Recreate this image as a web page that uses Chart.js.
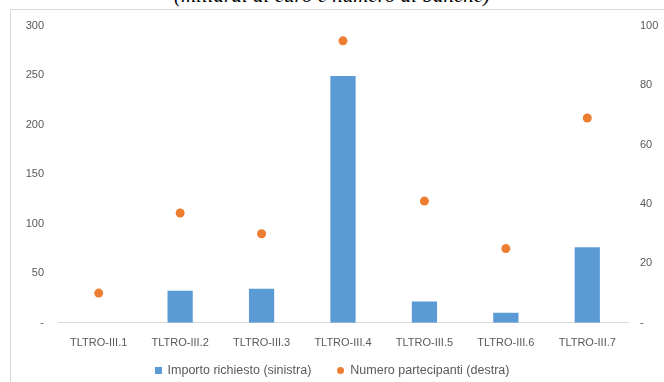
<!DOCTYPE html>
<html>
<head>
<meta charset="utf-8">
<script src="https://cdn.jsdelivr.net/npm/chart.js@4.4.0/dist/chart.umd.min.js"></script>
<style>
  html, body { margin: 0; padding: 0; background: #fff; overflow: hidden; }
  #wrap { position: relative; width: 664px; height: 382px; }
  #titolo {
    position: absolute; left: 0; width: 664px; top: -17px; text-align: center;
    font-family: "Liberation Serif", serif; font-style: italic; font-size: 21px; color: #000;
  }
  #box { position: absolute; left: 10px; top: 9px; width: 700px; height: 400px; border: 1px solid #d9d9d9; }
  canvas { position: absolute; left: 0; top: 0; }
  #legenda {
    position: absolute; left: 0; width: 664px; top: 363px; display: flex; justify-content: center;
    font-family: "Liberation Sans", Arial, sans-serif; font-size: 12.5px; color: #595959; line-height: 14px;
  }
  #legenda span.voce { display: flex; align-items: center; margin: 0 13px; }
  #legenda i { display: inline-block; width: 7px; height: 7px; margin-right: 6px; }
</style>
</head>
<body>
<div id="wrap">
  <div id="titolo">(miliardi di euro e numero di banche)</div>
  <div id="box"></div>
  <canvas id="grafico" width="664" height="382"></canvas>
  <div id="legenda"></div>
</div>
<script>
// dati
const operazioni = ['TLTRO-III.1', 'TLTRO-III.2', 'TLTRO-III.3', 'TLTRO-III.4', 'TLTRO-III.5', 'TLTRO-III.6', 'TLTRO-III.7'];
const importoRichiesto = [0, 32.5, 34.5, 249.5, 21.6, 10.1, 76.3];   // miliardi di euro (sinistra)
const numeroPartecipanti = [10, 37, 30, 95, 41, 25, 69];          // numero di banche (destra)

const grigio = '#595959';
const fontAssi = { family: 'Liberation Sans, Arial, sans-serif', size: 11 };

const ctx = document.getElementById('grafico').getContext('2d');
const chart = new Chart(ctx, {
    type: 'bar',
    data: {
        labels: operazioni,
        datasets: [
            {
                label: 'Importo richiesto (sinistra)',
                data: importoRichiesto,
                backgroundColor: '#5b9bd5',
                yAxisID: 'ySx',
                barPercentage: 0.31,
                categoryPercentage: 1,
                order: 1
            },
            {
                type: 'line',
                label: 'Numero partecipanti (destra)',
                data: numeroPartecipanti,
                yAxisID: 'yDx',
                showLine: false,
                pointRadius: 4.5,
                pointBackgroundColor: '#ed7d31',
                pointBorderWidth: 0,
                backgroundColor: '#ed7d31',
                borderColor: '#ed7d31',
                order: 0
            }
        ]
    },
    options: {
        responsive: false,
        animation: false,
        layout: { padding: { left: 10, right: 6, top: 26, bottom: 18 } },
        plugins: {
            tooltip: { enabled: false },
            legend: { display: false }
        },
        scales: {
            x: {
                grid: { display: false, drawTicks: false },
                border: { color: '#d9d9d9', width: 1 },
                ticks: { color: grigio, font: fontAssi, padding: 14, maxRotation: 0 }
            },
            ySx: {
                position: 'left',
                min: 0, max: 300,
                grid: { display: false, drawTicks: false },
                border: { display: false },
                afterFit: s => { s.width = 48; },
                ticks: {
                    stepSize: 50, color: grigio, font: fontAssi, padding: 14,
                    callback: v => v === 0 ? '-' : v
                }
            },
            yDx: {
                position: 'right',
                min: 0, max: 100,
                grid: { display: false, drawTicks: false },
                border: { display: false },
                afterFit: s => { s.width = 30; },
                ticks: {
                    stepSize: 20, color: grigio, font: fontAssi, padding: 12,
                    callback: v => v === 0 ? '-' : v
                }
            }
        }
    }
});

// legenda in HTML (quadrato per le barre, cerchio per i punti)
const legenda = document.getElementById('legenda');
chart.data.datasets.forEach((ds, i) => {
    const voce = document.createElement('span');
    voce.className = 'voce';
    const segno = document.createElement('i');
    segno.style.background = ds.backgroundColor;
    if (i === 1) segno.style.borderRadius = '50%';
    voce.appendChild(segno);
    voce.appendChild(document.createTextNode(ds.label));
    legenda.appendChild(voce);
});
</script>
</body>
</html>
